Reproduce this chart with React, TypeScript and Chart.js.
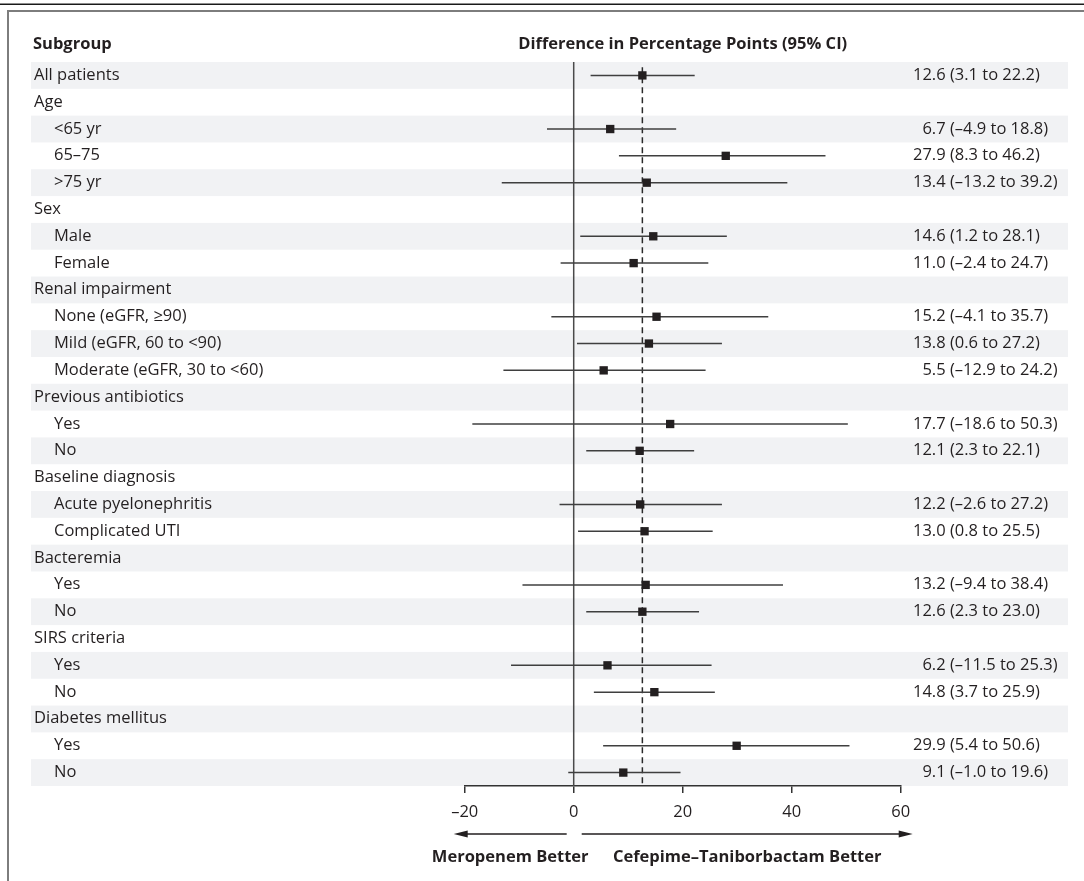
import { useEffect, useRef } from 'react';
import { Chart, registerables } from 'chart.js';

Chart.register(...registerables);

// ---------- data ----------
const subgroups = [
  'All patients',
  'Age',
  '<65 yr',
  '65–75',
  '>75 yr',
  'Sex',
  'Male',
  'Female',
  'Renal impairment',
  'None (eGFR, ≥90)',
  'Mild (eGFR, 60 to <90)',
  'Moderate (eGFR, 30 to <60)',
  'Previous antibiotics',
  'Yes',
  'No',
  'Baseline diagnosis',
  'Acute pyelonephritis',
  'Complicated UTI',
  'Bacteremia',
  'Yes',
  'No',
  'SIRS criteria',
  'Yes',
  'No',
  'Diabetes mellitus',
  'Yes',
  'No',
];
const indentLevels = [0, 0, 1, 1, 1, 0, 1, 1, 0, 1, 1, 1, 0, 1, 1, 0, 1, 1, 0, 1, 1, 0, 1, 1, 0, 1, 1];
const estimates: (number | null)[] = [
  12.6, null, 6.7, 27.9, 13.4, null, 14.6, 11.0, null, 15.2, 13.8, 5.5, null, 17.7, 12.1, null,
  12.2, 13.0, null, 13.2, 12.6, null, 6.2, 14.8, null, 29.9, 9.1,
];
const lowerCI: (number | null)[] = [
  3.1, null, -4.9, 8.3, -13.2, null, 1.2, -2.4, null, -4.1, 0.6, -12.9, null, -18.6, 2.3, null,
  -2.6, 0.8, null, -9.4, 2.3, null, -11.5, 3.7, null, 5.4, -1.0,
];
const upperCI: (number | null)[] = [
  22.2, null, 18.8, 46.2, 39.2, null, 28.1, 24.7, null, 35.7, 27.2, 24.2, null, 50.3, 22.1, null,
  27.2, 25.5, null, 38.4, 23.0, null, 25.3, 25.9, null, 50.6, 19.6,
];
const overallEstimate = 12.6;
const xTicks = [-20, 0, 20, 40, 60];
const headerSubgroup = 'Subgroup';
const headerDifference = 'Difference in Percentage Points (95% CI)';
const leftArrowLabel = 'Meropenem Better';
const rightArrowLabel = 'Cefepime–Taniborbactam Better';

// ---------- helpers ----------
const W = 1084;
const H = 881;
const FAMILY = '"Open Sans", "Noto Sans", sans-serif';
const FS = 16.5;
const TEXT = '#231f20';
const fmt = (v: number) => (v < 0 ? '–' : '') + Math.abs(v).toFixed(1);

const decorPlugin = {
  id: 'forestDecor',
  beforeDraw(chart: any) {
    const ctx = chart.ctx as CanvasRenderingContext2D;
    const y = chart.scales.y;
    ctx.save();
    ctx.fillStyle = '#ffffff';
    ctx.fillRect(0, 0, W, H);
    // alternating row bands
    ctx.fillStyle = '#f1f2f4';
    subgroups.forEach((_, i) => {
      if (i % 2 === 0) {
        const t = y.getPixelForValue(i - 0.5);
        const b = y.getPixelForValue(i + 0.5);
        ctx.fillRect(31, t, 1068 - 31, b - t);
      }
    });
    // frame lines
    ctx.fillStyle = '#1a1a1a';
    ctx.fillRect(0, 3.5, W, 1.5);
    ctx.fillStyle = '#7d7d7d';
    ctx.fillRect(7, 10, W - 7, 2);
    ctx.fillRect(7, 10, 2, H - 10);
    ctx.restore();
  },
  afterDraw(chart: any) {
    const ctx = chart.ctx as CanvasRenderingContext2D;
    const x = chart.scales.x;
    const y = chart.scales.y;
    ctx.save();
    ctx.fillStyle = TEXT;
    // headers
    ctx.font = `bold ${FS}px ${FAMILY}`;
    ctx.textBaseline = 'alphabetic';
    ctx.textAlign = 'left';
    ctx.fillText(headerSubgroup, 33, 49);
    ctx.textAlign = 'center';
    const axisMid = (x.getPixelForValue(xTicks[0]) + x.getPixelForValue(xTicks[xTicks.length - 1])) / 2;
    ctx.fillText(headerDifference, axisMid, 49);

    // row labels + CI text
    ctx.font = `${FS}px ${FAMILY}`;
    const digitW = ctx.measureText('0').width;
    subgroups.forEach((label, i) => {
      const cy = y.getPixelForValue(i) + 4.5;
      ctx.textAlign = 'left';
      ctx.fillText(label, indentLevels[i] ? 54 : 34, cy);
      const est = estimates[i];
      const lo = lowerCI[i];
      const hi = upperCI[i];
      if (est !== null && lo !== null && hi !== null) {
        const txt = `${est.toFixed(1)} (${fmt(lo)} to ${fmt(hi)})`;
        const off = Math.abs(est) < 10 ? digitW : 0;
        ctx.fillText(txt, 913 + off, cy);
      }
    });

    // arrows
    const p0 = x.getPixelForValue(0);
    const pMin = x.getPixelForValue(xTicks[0]);
    const pMax = x.getPixelForValue(xTicks[xTicks.length - 1]);
    const ay = 834;
    ctx.strokeStyle = TEXT;
    ctx.lineWidth = 1.5;
    const leftTip = pMin - 11;
    const leftEnd = p0 - 7;
    const rightStart = p0 + 8;
    const rightTip = pMax + 12;
    ctx.beginPath();
    ctx.moveTo(leftTip + 10, ay);
    ctx.lineTo(leftEnd, ay);
    ctx.moveTo(rightStart, ay);
    ctx.lineTo(rightTip - 10, ay);
    ctx.stroke();
    ctx.beginPath();
    ctx.moveTo(leftTip, ay);
    ctx.lineTo(leftTip + 14, ay - 3.5);
    ctx.lineTo(leftTip + 14, ay + 3.5);
    ctx.closePath();
    ctx.moveTo(rightTip, ay);
    ctx.lineTo(rightTip - 14, ay - 3.5);
    ctx.lineTo(rightTip - 14, ay + 3.5);
    ctx.closePath();
    ctx.fill();

    ctx.font = `bold ${FS}px ${FAMILY}`;
    ctx.textAlign = 'center';
    ctx.fillText(leftArrowLabel, (leftTip + leftEnd) / 2, 862);
    ctx.fillText(rightArrowLabel, (rightStart + rightTip) / 2 - 0, 862);
    ctx.restore();
  },
};

export default function App() {
  const ref = useRef<HTMLCanvasElement | null>(null);

  useEffect(() => {
    if (!ref.current) return;
    const ciDatasets = subgroups
      .map((_, i) => i)
      .filter((i) => estimates[i] !== null)
      .map((i) => ({
        type: 'line' as const,
        data: [
          { x: lowerCI[i] as number, y: i },
          { x: upperCI[i] as number, y: i },
        ],
        borderColor: '#3f3f3f',
        borderWidth: 1.5,
        pointRadius: 0,
        fill: false,
        order: 2,
        clip: false as any,
      }));

    const chart = new Chart(ref.current, {
      type: 'scatter',
      data: {
        datasets: [
          {
            type: 'scatter',
            data: subgroups
              .map((_, i) => ({ x: estimates[i], y: i }))
              .filter((d) => d.x !== null) as any,
            pointStyle: 'rect',
            pointRadius: 5.9,
            backgroundColor: '#231f20',
            borderWidth: 0,
            order: 0,
            clip: false as any,
          },
          ...ciDatasets,
          {
            type: 'line',
            data: [
              { x: 0, y: -0.5 },
              { x: 0, y: subgroups.length - 0.5 },
            ],
            borderColor: '#4a4a4a',
            borderWidth: 1.5,
            pointRadius: 0,
            order: 3,
            clip: false as any,
          },
          {
            type: 'line',
            data: [
              { x: overallEstimate, y: -0.3 },
              { x: overallEstimate, y: subgroups.length - 0.5 },
            ],
            borderColor: '#2a2a2a',
            borderWidth: 1.5,
            borderDash: [6, 4],
            pointRadius: 0,
            order: 4,
            clip: false as any,
          },
        ] as any,
      },
      options: {
        responsive: false,
        animation: false,
        devicePixelRatio: 1,
        layout: { padding: { left: 464.7, right: W - 900.7, top: 62, bottom: 0 } },
        plugins: { legend: { display: false }, tooltip: { enabled: false } },
        scales: {
          x: {
            type: 'linear',
            position: 'bottom',
            min: xTicks[0],
            max: xTicks[xTicks.length - 1],
            afterBuildTicks: (s: any) => {
              s.ticks = xTicks.map((v) => ({ value: v }));
            },
            afterFit: (s: any) => {
              s.height = 95;
            },
            ticks: {
              color: TEXT,
              font: { family: FAMILY, size: FS },
              padding: 9,
              maxRotation: 0,
              callback: (v: any) => (Number(v) < 0 ? '–' + Math.abs(Number(v)) : String(v)),
            },
            grid: {
              drawOnChartArea: false,
              drawTicks: true,
              tickLength: 7,
              color: '#333333',
              lineWidth: 1.5,
            },
            border: { display: true, color: '#333333', width: 1.5 },
          },
          y: {
            type: 'linear',
            display: false,
            reverse: true,
            min: -0.5,
            max: subgroups.length - 0.5,
          },
        },
      } as any,
      plugins: [decorPlugin],
    });
    return () => chart.destroy();
  }, []);

  return (
    <div style={{ position: 'absolute', left: 0, top: 0, width: W, height: H }}>
      <canvas ref={ref} width={W} height={H} style={{ display: 'block', width: W, height: H }} />
    </div>
  );
}
